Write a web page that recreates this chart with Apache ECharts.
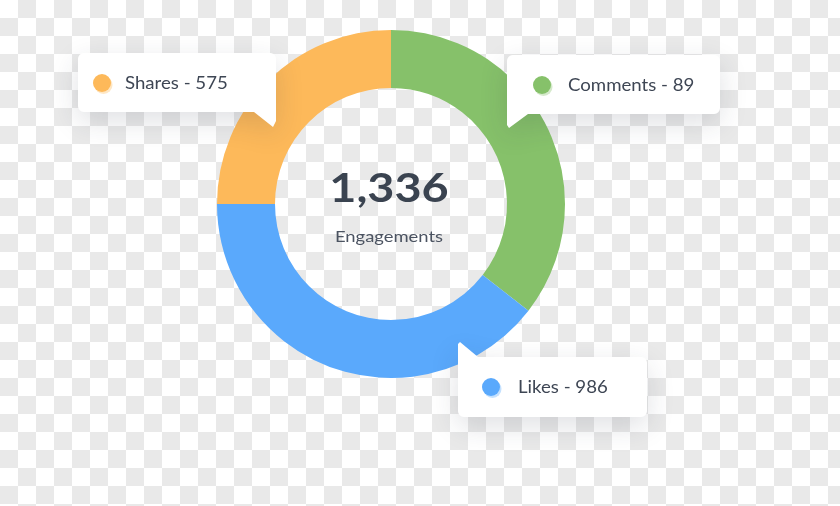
<!DOCTYPE html>
<html>
<head>
<meta charset="utf-8">
<script src="https://cdn.jsdelivr.net/npm/echarts@6/dist/echarts.min.js"></script>
<style>
  html, body { margin: 0; padding: 0; }
  body {
    width: 840px; height: 506px; overflow: hidden;
    background: repeating-conic-gradient(#e9e9e9 0% 25%, #ffffff 0% 50%) 0 0 / 36px 36px;
  }
  #chart { width: 840px; height: 506px; }
</style>
</head>
<body>
<div id="chart"></div>
<script>
// ---- data ----
const categories = ['Comments', 'Likes', 'Shares'];
const counts = [89, 986, 575];              // numbers printed on the callouts
const arcPercent = [35.5, 39.5, 25.0];      // share of the ring each slice covers in the picture
const colors = ['#86C16A', '#5AA9FC', '#FDB95A'];
const totalLabel = '1,336';
const centerCaption = 'Engagements';

const FONT = 'Lato, "Noto Sans", sans-serif';
const textColor = '#3E4654';

const chart = echarts.init(document.getElementById('chart'), null, { renderer: 'canvas' });

function arcPts(cx, cy, r, a0, a1) {
  const out = [];
  const n = 6;
  for (let k = 0; k <= n; k++) {
    const a = (a0 + (a1 - a0) * k / n) * Math.PI / 180;
    out.push([cx + r * Math.cos(a), cy + r * Math.sin(a)]);
  }
  return out;
}
const R = 6;
function sharesBox() {
  const x0 = 78, y0 = 53, x1 = 276, y1 = 112;
  return [].concat(
    arcPts(x0 + R, y0 + R, R, 180, 270),
    arcPts(x1 - R, y0 + R, R, 270, 360),
    [[x1, 121], [273, 127], [254, y1]],
    arcPts(x0 + R, y1 - R, R, 90, 180)
  );
}
function commentsBox() {
  const x0 = 507, y0 = 55, x1 = 720, y1 = 114;
  return [].concat(
    arcPts(x0 + R, y0 + R, R, 180, 270),
    arcPts(x1 - R, y0 + R, R, 270, 360),
    arcPts(x1 - R, y1 - R, R, 0, 90),
    [[528, y1], [509, 128], [x0, 125]]
  );
}
function likesBox() {
  const x0 = 458, y0 = 357, x1 = 647, y1 = 417;
  return [].concat(
    [[460, 342], [478, y0]],
    arcPts(x1 - R, y0 + R, R, 270, 360),
    arcPts(x1 - R, y1 - R, R, 0, 90),
    arcPts(x0 + R, y1 - R, R, 90, 180),
    [[x0, 344]]
  );
}

const callouts = [
  { idx: 2, pts: sharesBox(), dot: [102, 83], text: [125, 83] },
  { idx: 0, pts: commentsBox(), dot: [542, 85], text: [568, 85] },
  { idx: 1, pts: likesBox(), dot: [491, 387], text: [518, 387] }
];

const graphics = [];
callouts.forEach(c => {
  graphics.push({
    type: 'polygon', z: 100,
    shape: { points: c.pts },
    style: { fill: '#ffffff', shadowBlur: 28, shadowOffsetY: 9, shadowColor: 'rgba(40,50,70,0.15)' }
  });
  graphics.push({
    type: 'circle', z: 101,
    shape: { cx: c.dot[0] + 1.5, cy: c.dot[1] + 2, r: 9 },
    style: { fill: colors[c.idx], opacity: 0.35 }
  });
  graphics.push({
    type: 'circle', z: 102,
    shape: { cx: c.dot[0], cy: c.dot[1], r: 9 },
    style: { fill: colors[c.idx] }
  });
  graphics.push({
    type: 'text', z: 102,
    x: c.text[0], y: c.text[1], scaleX: 1.035,
    style: {
      text: categories[c.idx] + ' - ' + counts[c.idx],
      fill: textColor, font: '400 18px ' + FONT,
      align: 'left', verticalAlign: 'middle'
    }
  });
});
graphics.push({
  type: 'text', z: 102, x: 389, y: 189, scaleX: 1.17,
  style: { text: totalLabel, fill: '#3A4350', font: '700 40px ' + FONT, align: 'center', verticalAlign: 'middle' }
});
graphics.push({
  type: 'text', z: 102, x: 389, y: 237, scaleX: 1.15,
  style: { text: centerCaption, fill: '#4B5361', font: '400 16px ' + FONT, align: 'center', verticalAlign: 'middle' }
});

chart.setOption({
  backgroundColor: 'transparent',
  animation: false,
  series: [{
    type: 'pie',
    center: [391, 204],
    radius: [116, 174],
    startAngle: 90,
    clockwise: true,
    silent: true,
    label: { show: false },
    labelLine: { show: false },
    itemStyle: { borderWidth: 0 },
    data: categories.map((name, i) => ({ name, value: arcPercent[i], itemStyle: { color: colors[i] } }))
  }],
  graphic: graphics
});
</script>
</body>
</html>
